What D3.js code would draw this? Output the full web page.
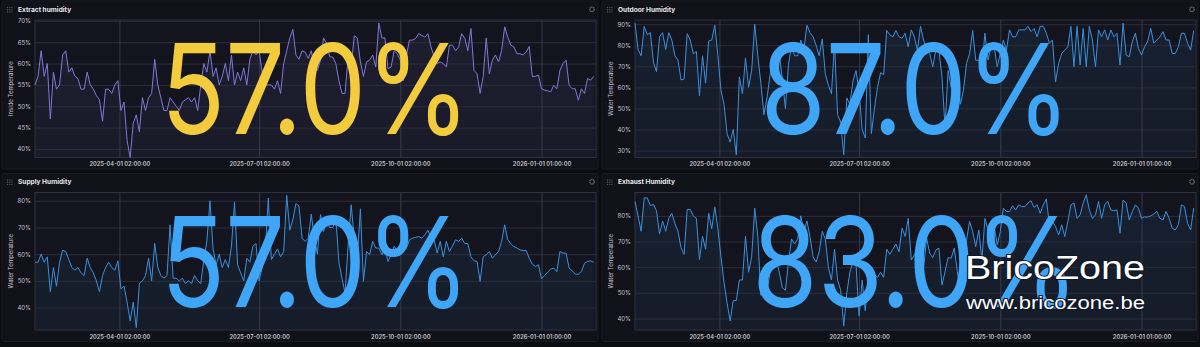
<!DOCTYPE html>
<html>
<head>
<meta charset="utf-8">
<script src="https://cdn.jsdelivr.net/npm/d3@7"></script>
<style>
  html, body { margin: 0; padding: 0; background: #0b0c10; }
  svg { display: block; font-family: Inter, "Noto Sans", sans-serif; }
</style>
</head>
<body>
<svg id="dash" width="1200" height="347"></svg>
<script>
// one value every 2 days, starting 2025-02-05
var extractHum = [55,57,63,57,60,47,58,54,55,62,
  63,58,59,57,56.5,54,54,58,55,54,
  52.5,51.5,46.5,54,54,53,55,56,49,51,
  42,38,46,48,44,52,49,52,53,61,
  55,52,49,49,52,51,50,49,51,51.5,
  52,51,52,49,55,60,58,63,57,59,
  55,57,60,56,62,55,58,56,59,55,
  61,63,62,63,58,55,55,55,54,56,
  53,60,63,66,68,62,61,63,62.7,61.2,
  63,59.2,58.4,60.8,66,64.7,61.6,61.5,60,56,
  53,53,61.6,59,66.5,66,60.4,57,60.4,60.8,
  62,59.2,69.5,66,66,58.8,59.2,63,62.3,60.8,
  56,62,65.5,65.5,65.9,67,66.6,66.2,67,63.9,
  61.6,60,60.4,60,59.2,64.3,64.3,63,63.9,67,
  65.9,63,68.2,58.4,57.6,53,57,66,57.6,60.8,
  62,60.4,63,68.6,66.2,64.3,63.9,62.3,62.3,62,
  62.7,64,57,57,57.3,54.1,53.8,53.6,53.4,54.9,
  54.1,58.4,60,60.8,54.9,54.1,54.1,51.4,54.1,53,
  56.5,56.1,57];

var outdoorHum = [90.5,78,75,89,85,86,72,67.5,84,86,
  78,86,82.5,75,73,63.5,64,85.5,82.5,76,
  77,56,75,62,82,82.5,89.5,75,58.6,52,
  38,34,40,28,65,57,74,60,68,90,
  75,62,47,55,66,72,65,76,64,50,
  71,80,75,75,82.5,78,89.5,86,84,80,
  75,83,66.5,61,57,81,47,43.5,28,55,
  52,63,68,58,40,36,85,38,50,60,
  67,66,87,85,84,87,84,83.3,85.7,79.3,
  87.3,84,77.7,89,82.5,77.7,76.1,69.8,77.7,77.7,
  65,41,68,60,68,65,52,58.6,71.4,76.1,
  87,72.9,72.9,69.8,85.7,73,79.3,79.3,69.8,76.1,
  82.5,77.7,87.3,84,84,87.3,87.3,87.3,89,86.5,
  88,84,89,89,85.7,81,82.5,62.6,71.4,76.1,
  77.7,79.3,89,69.8,89,70.6,88,69.8,89,82.5,
  69.8,87.3,84,87.3,82.5,87.3,84,85.7,70.6,90.5,
  75.4,74.5,81.7,85.7,78.5,75.4,79.3,81.7,88,81,
  82.5,84,86.5,82.5,82.5,76.1,76.1,79.3,85.7,85.7,
  81,77.7,87];

var supplyHum = [57,57,60,57,59,46,55,48,57,61.5,
  61,58,55,54,55,53,52,58.5,55,53,
  50,46,52,55,57,55,54,57.5,47,48,
  42,35,42,32.5,49,50,52,58.5,50,64,
  55,52,51,52,71,51,51,50,51,49,
  50,49,52,50,49,58,65,80,62,56,
  60,55,58,55,63,79.5,56,53,50,58.5,
  57,63,64,50,55,61,81,58,60,62,
  59,61,82,69,73,79,78,66,64.8,66,
  75,66,60,74.8,68.5,72.3,70,70,73.5,57,
  51,45.4,63.5,78.5,66,58.5,77,49.8,61,59.8,
  64.8,62.3,62.3,59.8,62.3,57.3,59.8,63,61,62.3,
  61,62.3,65.4,66,66.3,66.6,66,67.3,69,66.3,
  65.4,60.4,64.8,59,64.8,61,63,65.4,64.8,66,
  64,64,59,57.5,57.3,49.8,59,59.8,61,58.5,
  59.8,61,64.8,71,65.4,63.9,62.8,62.3,61.6,61.3,
  61.4,58.5,56.3,55.4,56,50.8,52,53.3,54.4,54.8,
  53.5,61,60.4,60.4,54.8,53.8,52.5,52.5,53.5,56.6,
  57.3,57.5,57];

var exhaustHum = [85.6,80,74,87,87,84,84.5,82,73,78,
  74,79,81,77,74,67.5,65,82.5,82.5,80,
  79,63,72,67,81,75,83.5,75,64,54,
  46,39,47,47,55,55,72,58,64,83,
  72,49,55,51,58,65,63,58,52,51,
  62,71,69,71,80,74,78,72,64,62,
  66,74,71,60,55,67,55,51,37,50,
  58,62,61,41,55,43,55,54,57,56,
  58,56,67,65,67,69,66,75.2,72,79,
  62.8,64.8,67.4,68,59.6,71.3,65.4,63.7,66.7,67.4,
  53,58.3,63.7,63.5,67.4,58.3,50.4,58.3,70.6,77.8,
  73.9,68,74.5,62.8,79,74.5,71.3,75.8,68.7,73.9,
  83,81.7,81.7,83.9,82.3,84.3,83.6,83.6,85,85.9,
  83.3,84.3,81,84.3,86.6,76.5,77.8,75.8,72.6,76.5,
  71.9,77.8,84.3,85,79,80.4,85,88.2,82.3,79,
  80.4,85.6,79,84.3,85.6,82.3,82,82.3,73.2,86.2,
  85,78.4,81.7,84.3,83,79,79.6,79.5,80,80.7,
  81.7,79,78.4,81.7,79,75.2,74.5,76.5,84.3,83.6,
  77.1,74.5,83];

var startDate = Date.UTC(2025, 1, 5);
var endDate = Date.UTC(2026, 1, 5, 12);
var stepDays = 2;

var tickDates = [Date.UTC(2025, 3, 1), Date.UTC(2025, 6, 1), Date.UTC(2025, 9, 1), Date.UTC(2026, 0, 1)];
var tickLabels = ["2025-04-01 02:00:00", "2025-07-01 02:00:00", "2025-10-01 02:00:00", "2026-01-01 01:00:00"];

var panelTitles = ["Extract humidity", "Outdoor Humidity", "Supply Humidity", "Exhaust Humidity"];
var axisTitles = ["Inside Temperature", "Water Temperature", "Water Temperature", "Water Temperature"];
var bigValues = ["57.0%", "87.0%", "57.0%", "83.0%"];
var yTicks = [[40, 45, 50, 55, 60, 65, 70], [30, 40, 50, 60, 70, 80, 90], [40, 50, 60, 70, 80], [40, 50, 60, 70, 80]];
var yDomains = [[38, 70.2], [26.7, 92], [31.6, 83.1], [35.5, 89.1]];
var seriesList = [extractHum, outdoorHum, supplyHum, exhaustHum];

var lineColors = ["#7f78d8", "#3a90dc", "#3a90dc", "#3a90dc"];
var bigColors = ["#f2cc3c", "#3fa6f7", "#3fa6f7", "#3fa6f7"];

// layout
var panelW = 596, panelH = 168;
var panelX = [2, 602, 2, 602];
var panelY = [1, 1, 173.5, 173.5];
var margin = { top: 19, right: 2, bottom: 11.5, left: 33 };
var plotW = panelW - margin.left - margin.right;
var plotH = panelH - margin.top - margin.bottom;

var svg = d3.select("#dash");

var x = d3.scaleUtc().domain([startDate, endDate]).range([0, plotW]);

panelTitles.forEach(function(title, i) {
  var g = svg.append("g").attr("transform", `translate(${panelX[i]}, ${panelY[i]})`);

  g.append("rect")
    .attr("width", panelW).attr("height", panelH)
    .attr("rx", 2)
    .attr("fill", "#111219")
    .attr("stroke", "#1a1b23");

  // drag handle dots
  for (var r = 0; r < 3; r++) {
    for (var c = 0; c < 3; c++) {
      g.append("rect")
        .attr("x", 5 + c * 2.2).attr("y", 6 + r * 2.2)
        .attr("width", 1.1).attr("height", 1.1)
        .attr("fill", "#5b5c66");
    }
  }

  g.append("text")
    .attr("x", 16).attr("y", 10.6)
    .style("font-size", "6.6px")
    .style("font-weight", "700")
    .attr("fill", "#e6e6ec")
    .text(title);

  // gear icon
  g.append("circle")
    .attr("cx", panelW - 6).attr("cy", 8.3).attr("r", 2.3)
    .attr("fill", "none").attr("stroke", "#6e6f78").attr("stroke-width", 1.4)
    .attr("stroke-dasharray", "1.2 0.6");

  var chart = g.append("g").attr("transform", `translate(${margin.left}, ${margin.top})`);

  var y = d3.scaleLinear().domain(yDomains[i]).range([plotH, 0]);

  var data = seriesList[i].map(function(v, k) {
    return { date: new Date(startDate + k * stepDays * 864e5), value: v };
  });

  var gradId = "fill" + i;
  var grad = svg.append("defs").append("linearGradient")
    .attr("id", gradId).attr("x1", 0).attr("y1", 0).attr("x2", 0).attr("y2", 1);
  grad.append("stop").attr("offset", "0%").attr("stop-color", lineColors[i]).attr("stop-opacity", 0.10);
  grad.append("stop").attr("offset", "100%").attr("stop-color", lineColors[i]).attr("stop-opacity", 0.06);

  chart.append("rect")
    .attr("width", plotW).attr("height", plotH)
    .attr("fill", "#13141d");

  chart.append("path")
    .datum(data)
    .attr("fill", `url(#${gradId})`)
    .attr("d", d3.area().x(d => x(d.date)).y0(plotH).y1(d => y(d.value)));

  // horizontal grid + y labels
  var yAxis = chart.append("g")
    .call(d3.axisLeft(y).tickValues(yTicks[i]).tickSize(-plotW).tickPadding(4).tickFormat(d => d + "%"));
  yAxis.select(".domain").remove();
  yAxis.selectAll(".tick line").attr("stroke", "#2c2e3c");
  yAxis.selectAll(".tick text")
    .attr("fill", "#c4c5cd")
    .style("font-size", "6px")
    .style("font-family", "Inter, sans-serif");

  // vertical grid + time labels
  var xAxis = chart.append("g")
    .attr("transform", `translate(0, ${plotH})`)
    .call(d3.axisBottom(x).tickValues(tickDates.map(d => new Date(d))).tickSize(-plotH).tickPadding(4.5)
      .tickFormat((d, k) => tickLabels[k]));
  xAxis.select(".domain").remove();
  xAxis.selectAll(".tick line").attr("stroke", "#373949");
  xAxis.selectAll(".tick text")
    .attr("fill", "#c4c5cd")
    .style("font-size", "5.7px")
    .style("font-weight", "600")
    .style("font-family", "Inter, sans-serif");

  chart.append("rect")
    .attr("width", plotW).attr("height", plotH)
    .attr("fill", "none").attr("stroke", "#2f3141");

  chart.append("path")
    .datum(data)
    .attr("fill", "none")
    .attr("stroke", lineColors[i])
    .attr("stroke-width", 1)
    .attr("stroke-linejoin", "round")
    .attr("d", d3.line().x(d => x(d.date)).y(d => y(d.value)));

  // y axis title
  g.append("text")
    .attr("transform", `translate(9, ${margin.top + plotH / 2}) rotate(-90)`)
    .attr("text-anchor", "middle")
    .attr("dy", "0.35em")
    .style("font-size", "6px")
    .attr("fill", "#c4c5cd")
    .text(axisTitles[i]);

  // big stat value, squeezed to the narrow stat font width
  var big = chart.append("text")
    .attr("x", plotW / 2)
    .attr("y", plotH / 2 + 45.5)
    .attr("text-anchor", "middle")
    .style("font-size", "125px")
    .style("font-weight", "400")
    .attr("fill", bigColors[i])
    .text(bigValues[i]);
  var natural = big.node().getComputedTextLength();
  big.attr("textLength", natural * 0.845).attr("lengthAdjust", "spacingAndGlyphs");
});

// watermark
var wm = svg.append("g")
  .attr("fill", "#ffffff")
  .attr("stroke", "#101827")
  .attr("stroke-width", 2)
  .style("paint-order", "stroke")
  .style("font-family", "'Liberation Sans', Arial, sans-serif");
wm.append("text")
  .attr("x", 965).attr("y", 279)
  .attr("textLength", 180).attr("lengthAdjust", "spacingAndGlyphs")
  .style("font-size", "34px")
  .text("BricoZone");
wm.append("text")
  .attr("x", 966).attr("y", 308.5)
  .attr("textLength", 179).attr("lengthAdjust", "spacingAndGlyphs")
  .style("font-size", "18px")
  .text("www.bricozone.be");
</script>
</body>
</html>
